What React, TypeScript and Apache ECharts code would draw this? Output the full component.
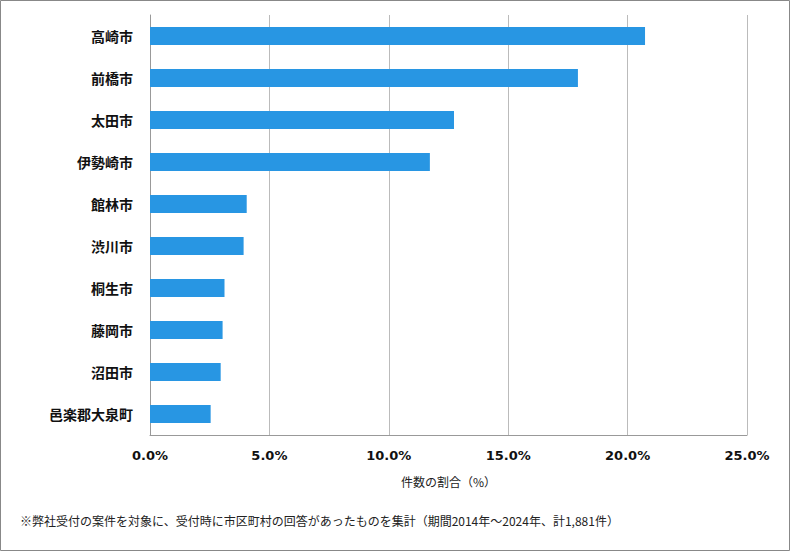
import React, { useEffect, useRef } from "react";
import * as echarts from "echarts";

const categories = ["高崎市", "前橋市", "太田市", "伊勢崎市", "館林市", "渋川市", "桐生市", "藤岡市", "沼田市", "邑楽郡大泉町"];
const shares = [20.73, 17.92, 12.73, 11.72, 4.05, 3.92, 3.12, 3.04, 2.96, 2.54];
const xTicks = [0, 5, 10, 15, 20, 25];
const axisName = "件数の割合（%）";
const footnote = "※弊社受付の案件を対象に、受付時に市区町村の回答があったものを集計（期間2014年～2024年、計1,881件）";

const FONT = "'DejaVu Sans', 'Noto Sans CJK JP', sans-serif";
const CJK = "'Noto Sans CJK JP', sans-serif";

export default function App() {
  const ref = useRef<HTMLDivElement>(null);
  useEffect(() => {
    if (!ref.current) return;
    const chart = echarts.init(ref.current, null, { renderer: "svg" });
    chart.setOption({
      animation: false,
      grid: { left: 150, right: 43, top: 15, bottom: 116, containLabel: false },
      xAxis: {
        type: "value",
        min: xTicks[0],
        max: xTicks[xTicks.length - 1],
        interval: 5,
        axisLine: { show: true, lineStyle: { color: "#999", width: 1 } },
        axisTick: { show: false },
        splitLine: { show: true, lineStyle: { color: "#bbb", width: 1 } },
        axisLabel: {
          formatter: (v: number) => v.toFixed(1) + "%",
          color: "#111",
          fontSize: 13,
          fontWeight: "bold",
          fontFamily: FONT,
          margin: 14,
        },
        name: axisName,
        nameLocation: "middle",
        nameGap: 40,
        nameTextStyle: { color: "#222", fontSize: 12, fontFamily: CJK },
      },
      yAxis: {
        type: "category",
        data: categories,
        inverse: true,
        axisLine: { show: true, lineStyle: { color: "#999", width: 1 } },
        axisTick: { show: false },
        axisLabel: {
          color: "#111",
          fontSize: 14,
          fontWeight: "bold",
          fontFamily: CJK,
          margin: 17,
        },
      },
      series: [
        {
          type: "bar",
          data: shares,
          barWidth: 18,
          itemStyle: { color: "#2896E3" },
        },
      ],
      graphic: [
        {
          type: "rect",
          shape: { x: 0.5, y: 0.5, width: 789, height: 550 },
          style: { fill: "none", stroke: "#888", lineWidth: 1 },
          silent: true,
          z: 100,
        },
        {
          type: "text",
          left: 20,
          top: 514,
          style: { text: footnote, fill: "#222", fontSize: 12, fontFamily: CJK },
        },
      ],
    });
    return () => chart.dispose();
  }, []);
  return (
    <div
      ref={ref}
      style={{ position: "absolute", left: 0, top: 0, width: 790, height: 551, background: "#fff" }}
    />
  );
}
